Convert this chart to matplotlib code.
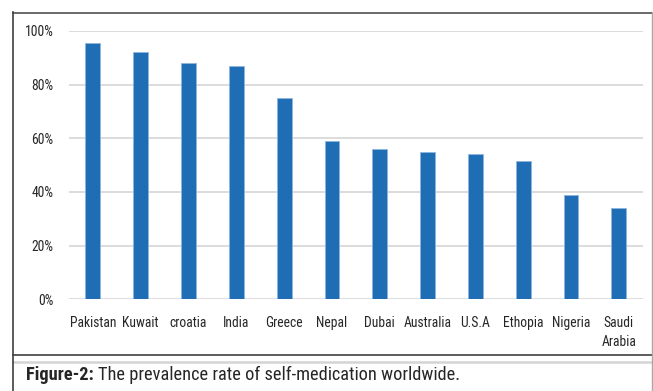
import matplotlib
matplotlib.use("Agg")
import matplotlib.pyplot as plt
from matplotlib.lines import Line2D
from matplotlib.ticker import FuncFormatter
from matplotlib import font_manager
import os

countries = ["Pakistan", "Kuwait", "croatia", "India", "Greece", "Nepal", "Dubai",
             "Australia", "U.S.A", "Ethopia", "Nigeria", "Saudi\nArabia"]
prevalence = [95.5, 92, 88, 87, 75, 59, 56, 55, 54, 51.5, 39, 34]
yticks = [0, 20, 40, 60, 80, 100]

# find a condensed font file
files = font_manager.findSystemFonts()
def pick(cands):
    for c in cands:
        for f in files:
            if os.path.basename(f).lower() == c.lower():
                return f
    return None

reg_file = pick(["LiberationSansNarrow-Regular.ttf", "RobotoCondensed-Regular.ttf",
                 "OpenSans_Condensed-Regular.ttf", "OpenSansCondensed-Regular.ttf",
                 "DejaVuSansCondensed.ttf"])
bold_file = pick(["LiberationSansNarrow-Bold.ttf", "RobotoCondensed-Bold.ttf",
                  "OpenSans_Condensed-Bold.ttf", "OpenSansCondensed-Bold.ttf",
                  "DejaVuSansCondensed-Bold.ttf"])
if reg_file:
    fp = font_manager.FontProperties(fname=reg_file)
else:
    fp = font_manager.FontProperties(family="DejaVu Sans", stretch="condensed")
if bold_file:
    fpb = font_manager.FontProperties(fname=bold_file)
else:
    fpb = font_manager.FontProperties(family="DejaVu Sans", weight="bold", stretch="condensed")

W, H = 653, 391
fig = plt.figure(figsize=(W / 100, H / 100), dpi=100)

def fx(px):
    return px / W

def fy(py):
    return 1 - py / H

ax = fig.add_axes([fx(69), fy(299.3), fx(642.7 - 69), (299.3 - 31) / H])
x = list(range(len(countries)))
ax.bar(x, prevalence, width=0.31, color="#1f6db5", edgecolor="#8fb5dc", linewidth=0.6, zorder=3)
ax.set_xlim(-0.5, len(countries) - 0.5)
ax.set_ylim(0, 100)
ax.set_yticks(yticks)
ax.yaxis.set_major_formatter(FuncFormatter(lambda v, p: f"{int(v)}%"))
ax.set_xticks(x)
ax.set_xticklabels(countries, linespacing=1.5)
for lab in ax.get_xticklabels() + ax.get_yticklabels():
    lab.set_fontproperties(fp)
    lab.set_fontsize(9.8)
    lab.set_color("#262626")
ax.tick_params(axis="y", length=0, pad=11)
ax.tick_params(axis="x", length=0, pad=12)
ax.grid(axis="y", color="#d9d9d9", linewidth=1.3, zorder=0)
for s in ax.spines.values():
    s.set_visible(False)

def hline(y, x0, x1, color, lw):
    fig.add_artist(Line2D([fx(x0), fx(x1)], [fy(y), fy(y)], color=color, linewidth=lw, transform=fig.transFigure))

def vline(xp, y0, y1, color, lw):
    fig.add_artist(Line2D([fx(xp), fx(xp)], [fy(y0), fy(y1)], color=color, linewidth=lw, transform=fig.transFigure))

hline(12.5, 13, 652, "#505050", 1.2)
hline(355, 13, 652, "#404040", 1.2)
hline(362.3, 13, 652, "#d4d4d4", 1.8)
vline(13.3, 12, 391, "#404040", 1.2)
vline(651.7, 12, 391, "#a8a8a8", 1.0)

t1 = fig.text(fx(26), fy(380), "Figure-2:", fontproperties=fpb, fontsize=13.2,
              color="#262626", va="baseline", ha="left")
fig.canvas.draw()
bb = t1.get_window_extent()
fig.text(bb.x1 / W + fx(4), fy(380), "The prevalence rate of self-medication worldwide.",
         fontproperties=fp, fontsize=13.2, color="#262626", va="baseline", ha="left")

fig.savefig("out.png", dpi=100)
